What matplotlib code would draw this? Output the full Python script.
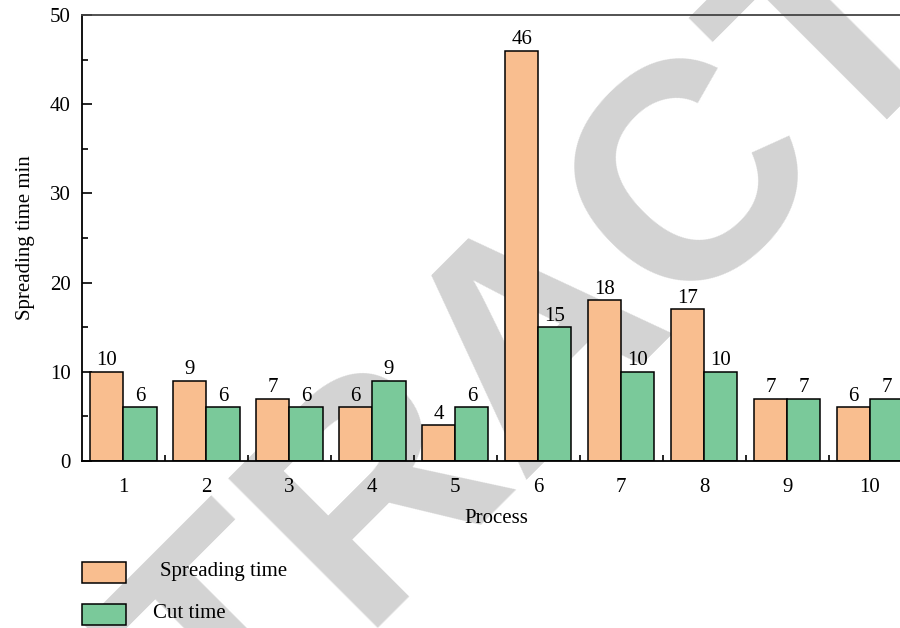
import matplotlib
matplotlib.use("Agg")
import matplotlib.pyplot as plt
from matplotlib.patches import Rectangle
from matplotlib.ticker import MultipleLocator, FixedLocator

plt.rcParams["font.family"] = ["Liberation Serif", "DejaVu Serif"]

PROCESS = [1, 2, 3, 4, 5, 6, 7, 8, 9, 10]
SPREADING = [10, 9, 7, 6, 4, 46, 18, 17, 7, 6]
CUT = [6, 6, 6, 9, 6, 15, 10, 10, 7, 7]

ORANGE = "#f9be8f"
GREEN = "#7ac99a"
WIDTH = 0.4
FS = 15

fig = plt.figure(figsize=(9, 6.28), dpi=100)

# big grey stamp across the page, kept behind the axes
fig.text(0.661, 0.376, "RETRACTED", rotation=45, rotation_mode="anchor",
         ha="center", va="baseline", fontsize=222, fontweight="bold",
         family="Liberation Sans", color="#d3d3d3", zorder=-5)

ax = fig.add_axes([0.0911, 0.2659, 0.9217, 0.7102])
ax.patch.set_facecolor("none")

xs = [v - WIDTH / 2 for v in PROCESS]
xc = [v + WIDTH / 2 for v in PROCESS]
b1 = ax.bar(xs, SPREADING, WIDTH, color=ORANGE, edgecolor="black", lw=1.1, zorder=2)
b2 = ax.bar(xc, CUT, WIDTH, color=GREEN, edgecolor="black", lw=1.1, zorder=2)
ax.bar_label(b1, labels=[str(v) for v in SPREADING], padding=1, fontsize=FS)
ax.bar_label(b2, labels=[str(v) for v in CUT], padding=1, fontsize=FS)

ax.set_xlim(0.5, 10.5)
ax.set_ylim(0, 50)
ax.xaxis.set_major_locator(FixedLocator(PROCESS))
ax.xaxis.set_minor_locator(FixedLocator([v + 0.5 for v in PROCESS[:-1]]))
ax.yaxis.set_major_locator(MultipleLocator(10))
ax.yaxis.set_minor_locator(MultipleLocator(5))
ax.tick_params(axis="x", which="major", length=0, pad=12, labelsize=FS)
ax.tick_params(axis="x", which="minor", direction="in", length=4, width=1.2)
ax.tick_params(axis="y", which="major", direction="in", length=7, width=1.2,
               pad=8, labelsize=FS)
ax.tick_params(axis="y", which="minor", direction="in", length=4, width=1.2)
for s in ax.spines.values():
    s.set_linewidth(1.3)
ax.spines["top"].set_color("#444444")

ax.set_xlabel("Process", fontsize=FS, labelpad=9)
ax.set_ylabel("Spreading time min", fontsize=FS, labelpad=11)

# legend drawn by hand under the axes
for y0, col, name, tx in [(0.0717, ORANGE, "Spreading time", 0.178),
                          (0.0048, GREEN, "Cut time", 0.170)]:
    fig.add_artist(Rectangle((0.0911, y0), 0.049, 0.0334, transform=fig.transFigure,
                             facecolor=col, edgecolor="black", lw=1.1))
    fig.text(tx, y0 + 0.0185, name, fontsize=FS, va="center", ha="left")

fig.savefig("out.png", dpi=100)
